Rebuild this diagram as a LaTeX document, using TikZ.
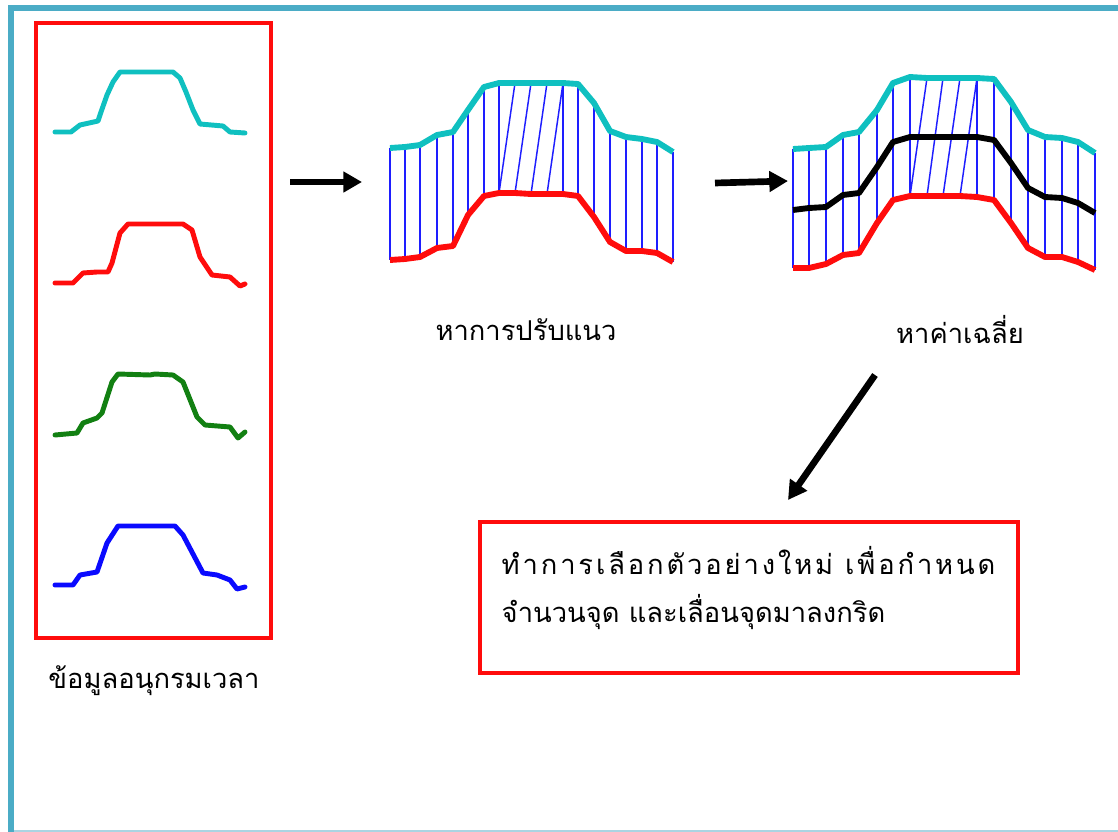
\documentclass[tikz,border=0pt]{standalone}
\usepackage{fontspec}
\usetikzlibrary{arrows.meta,calc}
\newfontfamily\thaifont[Script=Thai]{Loma}
\newfontfamily\thaiwide[Script=Thai,LetterSpace=10.5]{Loma}
\definecolor{frameblue}{RGB}{75,172,198}
\definecolor{framelight}{RGB}{170,212,226}
\definecolor{cyanc}{RGB}{15,192,192}
\definecolor{redc}{RGB}{255,12,12}
\definecolor{greenc}{RGB}{18,128,18}
\definecolor{bluec}{RGB}{10,10,255}
\definecolor{linkblue}{RGB}{30,30,255}
\begin{document}
\begin{tikzpicture}[x=0.75pt,y=-0.75pt,
  trace/.style={line width=3.7pt, line join=round, line cap=round},
  curve/.style={line width=4.4pt, line join=round},
  link/.style={draw=linkblue, line width=1.1pt},
  bigarrow/.style={draw=black, line width=5pt, -{Triangle[length=14pt,width=15pt]}},
  label/.style={font=\thaifont\fontsize{20.5}{24}\selectfont, inner sep=0pt},
  boxtext/.style={font=\thaifont\fontsize{20.5}{35.5}\selectfont, inner sep=0pt, align=left, anchor=north west}]
\useasboundingbox (0,0) rectangle (1118,832);
\fill[white] (0,0) rectangle (1118,832);
% frame
\draw[framelight, line width=1.5pt] (8,831) -- (1118,831);
\draw[frameblue, line width=4.5pt] (11,5) -- (11,832);
\draw[frameblue, line width=4.5pt] (8,8) -- (1118,8);
% left box of time series
\node[draw=redc, line width=3pt, minimum width=235*0.75pt, minimum height=615*0.75pt, inner sep=0pt] (series) at (153,330.5) {};
\node[label] (serieslabel) at (154,681) {ข้อมูลอนุกรมเวลา};
\draw[trace, cyanc] plot coordinates {(55,132) (71,132) (80,125) (98,121) (101,112) (107,95) (113,82) (120,72) (173,72) (180,78) (186,92) (193,110) (200,124) (223,126) (230,132) (245,133)};
\draw[trace, redc] plot coordinates {(55,283) (73,283) (83,273) (97,272) (108,272) (112,263) (120,233) (128,224) (183,224) (192,230) (200,257) (212,275) (230,277) (240,286) (245,284)};
\draw[trace, greenc] plot coordinates {(55,435) (77,433) (83,423) (97,418) (102,413) (112,382) (118,374) (150,375) (155,374) (173,375) (183,382) (197,417) (205,425) (230,427) (238,438) (245,432)};
\draw[trace, bluec] plot coordinates {(55,585) (73,585) (80,575) (97,572) (107,543) (118,526) (175,526) (183,535) (203,573) (217,575) (230,580) (237,589) (245,587)};
% arrows
\coordinate (a1s) at (290,182);
\coordinate (a1e) at (362,182);
\coordinate (a2s) at (715,183);
\coordinate (a2e) at (788,181);
\coordinate (a3s) at (875,375);
\coordinate (a3e) at (788,500);
\draw[bigarrow] (a1s) -- (a1e);
\draw[bigarrow] (a2s) -- (a2e);
\draw[bigarrow] (a3s) -- (a3e);
% alignment diagram
\foreach \x/\c/\r in {390/148/260,405/147/259,420/145/257,437/135/248,453/132/246,468/110/215,484/87/196,499/83/193,563/83/194,578/84/196,594/103/217,610/131/242,626/137/251,642/139/251,657/142/253,673/152/262}
  \draw[link] (\x,\c) -- (\x,\r);
\foreach \xa/\c/\xb/\r in {515/83/499/193,531/83/515/193,547/83/531/194,563/83/547/194}
  \draw[link] (\xa,\c) -- (\xb,\r);
\draw[curve, cyanc] plot coordinates {(390,148) (405,147) (420,145) (437,135) (453,132) (468,110) (484,87) (499,83) (515,83) (531,83) (547,83) (563,83) (578,84) (594,103) (610,131) (626,137) (642,139) (657,142) (673,152)};
\draw[curve, redc] plot coordinates {(390,260) (405,259) (420,257) (437,248) (453,246) (468,215) (484,196) (499,193) (515,193) (531,194) (547,194) (563,194) (578,196) (594,217) (610,242) (626,251) (642,251) (657,253) (673,262)};
\node[label] (alignlabel) at (526,330) {หาการปรับแนว};
% averaging diagram
\foreach \x/\c/\r in {793/149/268,809/148/268,826/147/264,843/135/255,859/132/253,877/110/223,893/83/200,910/77/196,977/78/197,994/79/200,1011/102/223,1028/130/248,1045/137/257,1062/138/257,1078/142/262,1095/153/270}
  \draw[link] (\x,\c) -- (\x,\r);
\foreach \xa/\c/\xb/\r in {927/78/910/196,943/78/927/196,960/78/943/196,977/78/960/196}
  \draw[link] (\xa,\c) -- (\xb,\r);
\draw[curve, cyanc] plot coordinates {(793,149) (809,148) (826,147) (843,135) (859,132) (877,110) (893,83) (910,77) (927,78) (943,78) (960,78) (977,78) (994,79) (1011,102) (1028,130) (1045,137) (1062,138) (1078,142) (1095,153)};
\draw[curve, black] plot coordinates {(793,210) (809,208) (826,207) (843,195) (859,193) (877,167) (893,142) (910,137) (927,137) (943,137) (960,137) (977,137) (994,140) (1011,163) (1028,188) (1045,197) (1062,198) (1078,203) (1095,213)};
\draw[curve, redc] plot coordinates {(793,268) (809,268) (826,264) (843,255) (859,253) (877,223) (893,200) (910,196) (927,196) (943,196) (960,196) (977,197) (994,200) (1011,223) (1028,248) (1045,257) (1062,257) (1078,262) (1095,270)};
\node[label] (meanlabel) at (960,330) {หาค่าเฉลี่ย};
% resampling box
\node[draw=redc, line width=2.3pt, minimum width=538*0.75pt, minimum height=151*0.75pt, inner sep=0pt] (resample) at (749,597.5) {};
\node[boxtext] (resampletext) at ($(resample.north west)+(23,26)$) {{\thaiwide ทำการเลือกตัวอย่างใหม่ เพื่อกำหนด}\\จำนวนจุด และเลื่อนจุดมาลงกริด};
\end{tikzpicture}
\end{document}
